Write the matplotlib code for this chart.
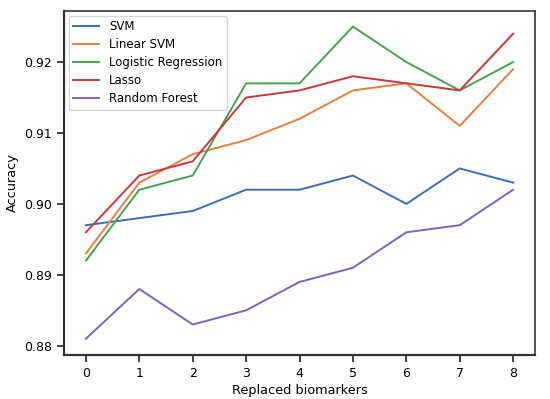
import matplotlib
matplotlib.use("Agg")
import matplotlib.pyplot as plt

# replaced biomarkers on x
replaced = [0, 1, 2, 3, 4, 5, 6, 7, 8]

svm = [0.897, 0.898, 0.899, 0.902, 0.902, 0.904, 0.900, 0.905, 0.903]
linear_svm = [0.893, 0.903, 0.907, 0.909, 0.912, 0.916, 0.917, 0.911, 0.919]
logistic = [0.892, 0.902, 0.904, 0.917, 0.917, 0.925, 0.920, 0.916, 0.920]
lasso = [0.896, 0.904, 0.906, 0.915, 0.916, 0.918, 0.917, 0.916, 0.924]
random_forest = [0.881, 0.888, 0.883, 0.885, 0.889, 0.891, 0.896, 0.897, 0.902]

names = ["SVM", "Linear SVM", "Logistic Regression", "Lasso", "Random Forest"]
colors = ["#3d6db5", "#e5813f", "#45a350", "#c8383f", "#7c64bd"]

plt.rcParams["font.family"] = "DejaVu Sans"

fig = plt.figure(figsize=(5.5, 3.99), dpi=100)
ax = fig.add_axes([0.1164, 0.1103, 0.8564, 0.8622])

for series, name, color in zip([svm, linear_svm, logistic, lasso, random_forest], names, colors):
    ax.plot(replaced, series, color=color, linewidth=1.4, label=name)

ax.set_xticks(replaced)
ax.set_yticks([0.88, 0.89, 0.90, 0.91, 0.92])
ax.set_xlim(-0.41, 8.41)
ax.set_ylim(0.8787, 0.9272)

for side in ["left", "bottom"]:
    ax.spines[side].set_linewidth(1.6)
    ax.spines[side].set_color("#333333")
for side in ["right", "top"]:
    ax.spines[side].set_linewidth(1.2)
    ax.spines[side].set_color("#333333")
ax.tick_params(length=5, width=1.3, color="#333333", labelsize=9, pad=3.5)

ax.set_xlabel("Replaced biomarkers", fontsize=9.3, labelpad=3)
ax.set_ylabel("Accuracy", fontsize=9.3, labelpad=4)
ax.legend(loc="upper left", fontsize=8.5, handlelength=2.2, borderaxespad=0.4,
          labelspacing=0.42)

fig.savefig("out.png", dpi=100)
